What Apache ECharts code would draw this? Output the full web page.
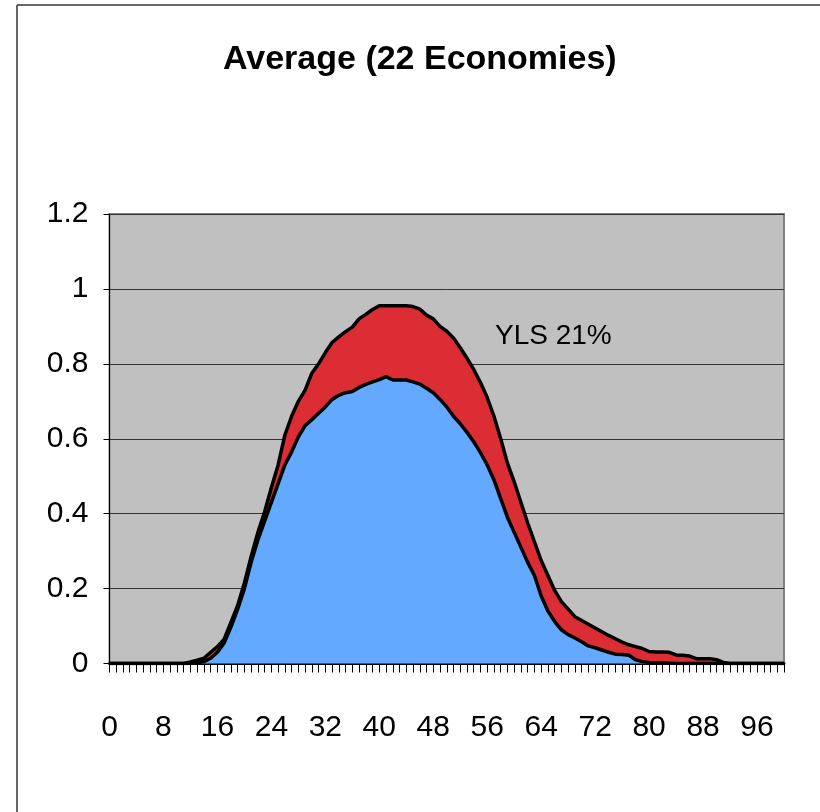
<!DOCTYPE html>
<html>
<head>
<meta charset="utf-8">
<script src="https://cdn.jsdelivr.net/npm/echarts@6/dist/echarts.min.js"></script>
<style>
html,body{margin:0;padding:0;background:#fff;}
#chart{width:820px;height:812px;}
</style>
</head>
<body>
<div id="chart"></div>
<script>
var titleText = 'Average (22 Economies)';
var annotationText = 'YLS 21%';
var ages = ['0','1','2','3','4','5','6','7','8','9','10','11','12','13','14','15','16','17','18','19','20',
'21','22','23','24','25','26','27','28','29','30','31','32','33','34','35','36','37','38','39','40',
'41','42','43','44','45','46','47','48','49','50','51','52','53','54','55','56','57','58','59','60',
'61','62','63','64','65','66','67','68','69','70','71','72','73','74','75','76','77','78','79','80',
'81','82','83','84','85','86','87','88','89','90','91','92','93','94','95','96','97','98','99','100'];
var blueValues = [0,0,0,0,0,0,0,0,0,0,0,0,0,0.002,0.005,0.014,0.03,0.055,0.097,0.145,0.2,
0.27,0.33,0.38,0.43,0.48,0.53,0.565,0.605,0.635,0.651,0.668,0.685,0.705,0.716,0.723,0.726,0.737,0.745,0.752,0.758,
0.766,0.757,0.757,0.757,0.752,0.746,0.735,0.723,0.705,0.685,0.66,0.64,0.617,0.592,0.563,0.53,0.49,0.44,0.39,0.35,
0.31,0.27,0.235,0.18,0.14,0.112,0.09,0.077,0.068,0.058,0.047,0.042,0.036,0.03,0.025,0.024,0.022,0.01,0.005,0.003,
0.002,0.002,0.001,0,0,0,0,0,0,0,0,0,0,0,0,0,0,0,0,0];
var redValues = [0,0,0,0,0,0,0,0,0,0,0,0,0.004,0.007,0.009,0.016,0.015,0.01,0.013,0.01,0.015,
0.016,0.02,0.025,0.04,0.05,0.08,0.095,0.095,0.095,0.124,0.132,0.145,0.152,0.156,0.163,0.172,0.183,0.187,0.193,0.197,
0.189,0.198,0.198,0.198,0.201,0.2,0.195,0.197,0.195,0.202,0.209,0.203,0.198,0.193,0.187,0.18,0.17,0.16,0.145,0.135,
0.12,0.105,0.09,0.095,0.095,0.083,0.075,0.068,0.057,0.057,0.058,0.053,0.049,0.045,0.041,0.033,0.028,0.035,0.035,0.029,
0.029,0.029,0.029,0.023,0.022,0.02,0.013,0.013,0.013,0.01,0.003,0,0,0,0,0,0,0,0,0];

var font = '"Liberation Sans", Arial, sans-serif';
var chart = echarts.init(document.getElementById('chart'), null, {renderer: 'canvas'});
chart.setOption({
  animation: false,
  backgroundColor: '#ffffff',
  title: {
    text: titleText,
    left: 218,
    top: 38,
    textStyle: {fontFamily: font, fontWeight: 'bold', fontSize: 34, color: '#000'}
  },
  grid: {
    left: 109.5, right: 36, top: 214, bottom: 148.5,
    show: true, backgroundColor: '#C0C0C0', borderColor: '#808080', borderWidth: 2
  },
  xAxis: {
    type: 'category',
    data: ages,
    boundaryGap: false,
    axisLine: {show: true, lineStyle: {color: '#000', width: 3}},
    axisTick: {show: true, interval: 0, length: 9, inside: false, lineStyle: {color: '#000', width: 1}},
    axisLabel: {interval: 7, margin: 49, fontFamily: font, fontSize: 30, color: '#000'},
    splitLine: {show: false}
  },
  yAxis: {
    type: 'value',
    min: 0, max: 1.2, interval: 0.2,
    axisLine: {show: true, lineStyle: {color: '#000', width: 1}},
    axisTick: {show: true, length: 6, inside: false, lineStyle: {color: '#000'}},
    axisLabel: {margin: 21, fontFamily: font, fontSize: 30, color: '#000'},
    splitLine: {show: true, lineStyle: {color: '#333', width: 1}}
  },
  graphic: [
    {type: 'line', shape: {x1: 17, y1: 5, x2: 17, y2: 812}, style: {stroke: '#333', lineWidth: 1.5}},
    {type: 'line', shape: {x1: 17, y1: 5, x2: 820, y2: 5}, style: {stroke: '#333', lineWidth: 1.5}},
    {type: 'text', left: 495, top: 322, z: 100,
     style: {text: annotationText, fontFamily: font, fontSize: 28, fill: '#000'}}
  ],
  series: [
    {
      name: 'Base', type: 'line', stack: 'total', data: blueValues,
      symbol: 'none', smooth: false,
      lineStyle: {color: '#000', width: 3.5},
      areaStyle: {color: '#63A9FF', opacity: 1}
    },
    {
      name: 'YLS', type: 'line', stack: 'total', data: redValues,
      symbol: 'none', smooth: false,
      lineStyle: {color: '#000', width: 3.5},
      areaStyle: {color: '#DC2D35', opacity: 1}
    }
  ]
});
</script>
</body>
</html>
